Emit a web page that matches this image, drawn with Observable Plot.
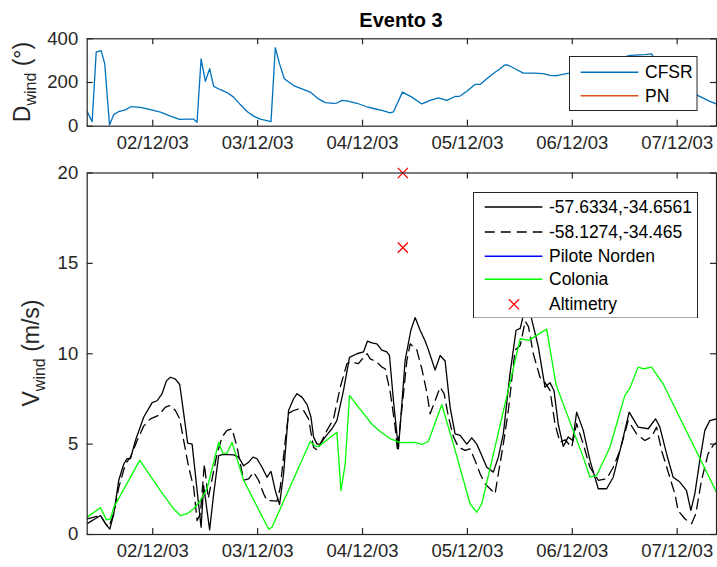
<!DOCTYPE html>
<html>
<head>
<meta charset="utf-8">
<script src="https://cdn.jsdelivr.net/npm/d3@7"></script>
<script src="https://cdn.jsdelivr.net/npm/@observablehq/plot@0.6"></script>
<style>
  body { margin: 0; background: #fff; }
  #fig { position: relative; width: 717px; height: 567px; overflow: hidden;
         font-family: "Liberation Sans", Arial, sans-serif; color: #262626; background: #fff; }
  .panel { position: absolute; left: 0; }
  .title { position: absolute; left: 401px; top: 20px; transform: translate(-50%, -50%);
           font-weight: bold; font-size: 20px; color: #000; white-space: nowrap; line-height: 1; }
  .ylab { position: absolute; transform: translate(-50%, -50%) rotate(-90deg);
          font-size: 23px; white-space: nowrap; line-height: 1; color: #262626; }
  .ylab .sub { font-size: 16px; position: relative; top: 6px; }
</style>
</head>
<body>
<div id="fig"></div>
<script>
// ---------------- data ----------------
const startTime = "2003-12-01T09:00:00Z";   // left edge of both panels
const endTime   = "2003-12-07T09:00:00Z";   // right edge of both panels
const xTickLabels = ["02/12/03", "03/12/03", "04/12/03", "05/12/03", "06/12/03", "07/12/03"];
const dirTicks = [0, 200, 400];
const speedTicks = [0, 5, 10, 15, 20];
const titleText = "Evento 3";

// CFSR wind direction (hours after start, degrees)
const dirHours = [0,1.14,2.06,3.2,4.02,5.1,6.08,7.22,8.75,10.06,12.18,14.47,16.75,19.04,21.17,22.86,24.37,25.14,26.06,27.04,28.02,28.94,30.47,32,33.51,35.04,36.57,38.08,39.61,42.06,43.04,44.02,45.1,47.22,49.14,51.04,52.94,54.47,56.37,57.14,58.29,59.43,61.71,64,65.51,67.43,69.33,70.08,72.14,74.29,76.57,78.47,80.37,82.29,84.18,85.33,86.86,88.75,89.9,91.43,93.33,94.47,95.61,96.37,97.9,99.79,102.08,104.37,105.9,107.43,110.24,113.9,117.33,120.76,124.19,127.61,129.14,129.52,132.2,135.6,139.79,142.47,144];
const dirValues = [67,21,339,346,285,6,53,67,75,90,86,76,64,46,31,32,32,18,308,205,263,182,167,154,133,99,67,46,32,21,359,285,217,186,171,156,125,108,104,106,118,116,105,89,81,72,61,66,156,133,102,118,130,118,136,138,160,191,191,217,247,263,281,279,263,243,243,241,233,231,243,262,285,305,324,328,331,319,270,200,140,114,102];
const pnDirValues = [];   // PN: legend entry only

// Wind speed at -57.6334,-34.6561 (solid black)
const s1Hours = [0,3.04,4.18,5.17,6.08,7.22,8.37,9.14,9.9,11.04,12.94,14.86,16,17.14,18.13,19.04,20.18,21.17,22.08,22.99,24,26.06,26.65,28.02,28.94,30.08,31.22,33.51,34.65,35.79,36.94,37.94,38.86,40,41.14,42.06,43.04,44.02,44.94,46.08,47.22,48,49.14,50.29,51.2,51.79,52.57,53.33,54.47,56,57.14,58.65,60.02,61.71,63.22,64.14,65.14,66.29,67.43,68.57,69.17,70.08,71.22,72.75,74.06,75.04,76.18,77.33,78.1,79.61,80.76,81.9,83.04,84.18,85.33,86.86,88,89.14,90.29,91.43,92.94,94.08,95.22,96.75,98.13,99.09,100.27,100.96,101.71,103.22,104.75,105.9,106.81,107.79,108.94,110.08,111.09,112,113.51,115.04,116.94,118.86,120.37,122.29,124.02,126.08,128.37,130.06,131.04,132.57,134.08,135.61,137.14,138.13,139.04,140.18,141.33,142.47,144];
const s1Values = [0.6,1.05,0.6,0.3,1.15,3.0,3.9,4.2,4.2,5.2,6.5,7.3,7.4,7.8,8.5,8.7,8.6,8.3,6.7,5.05,5.0,0.4,2.7,0.26,2.25,4.37,4.43,4.4,4.28,3.8,4.0,4.28,4.19,3.72,3.17,3.49,2.43,1.66,3.36,6.86,7.51,7.79,7.6,7.2,6.5,5.4,5.0,5.0,5.4,5.85,6.3,7.97,9.8,10.0,10.1,10.7,10.6,10.55,10.2,10.1,9.9,7.4,4.74,9.63,11.3,12.0,11.3,10.7,10.2,9.1,9.9,9.6,7.05,5.57,5.48,5.0,5.35,5.0,4.37,3.72,3.45,4.28,5.57,8.9,11.3,11.4,12.6,12.8,11.9,10.4,8.15,8.4,7.97,6.1,4.87,5.4,5.2,6.77,5.76,4.1,2.53,2.53,3.17,5.0,6.77,5.94,5.85,6.4,5.94,4.47,3.17,2.9,2.43,1.33,2.25,4.1,5.76,6.3,6.4];

// Wind speed at -58.1274,-34.465 (dashed black)
const s2Hours = [0,3.04,4.18,4.94,6.08,7.22,8.75,9.9,11.43,12.94,14.47,16.37,17.9,19.04,20.18,21.17,22.08,23.22,24.37,25.14,25.9,26.81,27.7,29.71,30.86,32,33.14,34.29,35.79,36.94,38.08,39.22,40.37,41.14,43.43,44.18,45.33,46.08,47.22,48.37,49.51,50.65,51.79,52.71,53.71,54.86,56.37,57.9,59.43,60.57,62.08,63.22,64.07,64.75,66.29,67.43,68.18,69.33,70.47,71,72.37,73.14,73.9,75.43,76.57,77.71,78.47,79.61,80.76,81.67,82.67,83.81,84.95,86.47,87.61,88.75,89.9,91.05,92.18,93.33,94.08,95.22,96.37,97.9,99.09,100.22,100.98,102.08,103.61,104.75,105.9,107.04,108.18,109.33,110.86,112,113.51,115.04,116.94,118.86,120.37,121.9,123.79,125.71,127.61,129.14,130.29,131.43,132.95,134.47,135.22,136.75,138.29,139.27,140.57,142.08,143.22,144];
const s2Values = [0.87,1.05,0.6,0.4,1.15,2.6,3.9,4.28,5.2,6.0,6.4,6.6,7.05,7.14,6.86,6.4,5.2,3.72,2.6,0.77,1.15,3.9,2.0,4.47,5.4,5.76,5.85,4.83,3.0,3.08,3.45,3.0,2.25,1.88,1.85,2.6,5.2,6.7,6.86,6.95,6.86,6.4,4.83,4.65,5.2,5.76,6.4,8.15,9.45,9.54,9.45,9.8,10.0,9.72,9.54,9.26,9.17,7.9,5.94,4.65,7.79,9.6,10.55,10.2,9.17,7.87,6.68,7.4,8.15,7.79,6.5,5.4,4.83,4.65,4.74,4.1,3.36,2.8,2.53,2.25,3.36,5.0,6.86,10.2,10.46,11.8,11.5,10.0,8.7,8.4,7.97,6.13,5.1,5.24,4.83,6.13,5.0,3.72,3.0,3.08,3.72,4.65,6.3,5.57,5.2,5.4,5.94,4.65,3.45,2.25,1.33,0.87,0.6,1.15,3.0,4.47,4.93,5.1];

// Colonia (green)
const coloniaHours = [0,3.04,4.41,5.33,6.08,12.02,16.75,19.79,21.33,22.86,24.37,25.9,27.43,30.08,31.09,32,33.14,35.79,41.51,42.29,51.04,52.18,52.94,57.14,58.06,59.04,60.02,61.71,63.22,65.14,67.04,69.33,71.61,75.04,76.57,78.08,81.14,83.79,87.61,89.14,90.29,99.09,100.98,105.14,107.27,110.36,113.51,115.04,116.57,119.61,123.04,124.18,126.08,127.38,129.14,131.79,144];
const coloniaValues = [0.96,1.48,0.81,0.87,1.5,4.1,2.43,1.42,1.05,1.15,1.42,1.88,2.53,5.1,4.47,4.5,5.1,3.0,0.3,0.4,5.15,4.89,4.87,5.66,2.43,3.9,7.7,7.15,6.7,6.1,5.7,5.3,5.08,5.1,4.98,5.16,7.18,5.0,1.7,1.23,1.7,10.83,10.74,11.36,8.3,6.3,4.28,3.17,3.26,4.83,7.7,8.1,9.26,9.17,9.26,8.34,2.34];

const piloteNordenValues = [];   // legend entry only

// Altimetry (red crosses)
const altHours = [72.23, 72.23];
const altValues = [20.0, 15.87];

const topLegendLabels = ["CFSR", "PN"];
const bottomLegendLabels = ["-57.6334,-34.6561", "-58.1274,-34.465", "Pilote Norden", "Colonia", "Altimetry"];

// ---------------- build ----------------
const t0 = Date.parse(startTime);
const toDate = h => new Date(t0 + h * 3600e3);
const zip = (hs, vs) => hs.slice(0, Math.min(hs.length, vs.length)).map((h, i) => ({date: toDate(h), value: vs[i]}));
const xDomain = [new Date(startTime), new Date(endTime)];
const parseTick = d3.utcParse("%d/%m/%y");
const fmt = d3.utcFormat("%d/%m/%y");
const dayTicks = xTickLabels.map(parseTick);

const dirData = zip(dirHours, dirValues);
const s1Data = zip(s1Hours, s1Values);
const s2Data = zip(s2Hours, s2Values);
const colData = zip(coloniaHours, coloniaValues);
const altData = zip(altHours, altValues);

const W = 717, ML = 86.7, MR = 1;
const TOP_H = 150, TOP_MT = 38.3, TOP_MB = 24.3;
const BOT_TOP = 150, BOT_H = 417, BOT_MT = 22.5, BOT_MB = 33;
const INK = "#262626", TL = 6, FW = 1.2;
const BLUE = "#0072BD", ORANGE = "#D95319", GREEN = "#00FF00", RED = "#FF0000", PNBLUE = "#0000FF";

const style = {fontFamily: "'Liberation Sans', Arial, sans-serif", fontSize: "18.5px", color: INK, background: "transparent", overflow: "visible"};

function boxMarks(yt, h, mt, mb, padX) {
  const ih = h - mt - mb, iw = W - ML - MR;
  return [
    Plot.tickX(dayTicks, {x: d => d, stroke: INK, strokeWidth: FW, insetTop: ih - TL}),
    Plot.tickX(dayTicks, {x: d => d, stroke: INK, strokeWidth: FW, insetBottom: ih - TL}),
    Plot.tickY(yt, {y: d => d, stroke: INK, strokeWidth: FW, insetRight: iw - TL}),
    Plot.tickY(yt, {y: d => d, stroke: INK, strokeWidth: FW, insetLeft: iw - TL}),
    Plot.frame({stroke: INK, strokeWidth: FW}),
    Plot.axisX(dayTicks, {tickSize: 0, tickPadding: padX, tickFormat: fmt, label: null}),
    Plot.axisY(yt, {tickSize: 0, tickPadding: 9, label: null})
  ];
}

const fig = document.getElementById("fig");

const topPlot = Plot.plot({
  width: W, height: TOP_H, marginTop: TOP_MT, marginBottom: TOP_MB, marginLeft: ML, marginRight: MR,
  x: {type: "utc", domain: xDomain},
  y: {domain: [0, 400]},
  style,
  marks: [
    Plot.line(dirData, {x: "date", y: "value", stroke: BLUE, strokeWidth: 1.3, clip: true}),
    ...boxMarks(dirTicks, TOP_H, TOP_MT, TOP_MB, 10)
  ]
});
const topDiv = document.createElement("div");
topDiv.className = "panel"; topDiv.style.top = "0px";
topDiv.appendChild(topPlot);
fig.appendChild(topDiv);

const botPlot = Plot.plot({
  width: W, height: BOT_H, marginTop: BOT_MT, marginBottom: BOT_MB, marginLeft: ML, marginRight: MR,
  x: {type: "utc", domain: xDomain},
  y: {domain: [0, 20]},
  style,
  marks: [
    Plot.line(s1Data, {x: "date", y: "value", stroke: "#000", strokeWidth: 1.3, clip: true}),
    Plot.line(s2Data, {x: "date", y: "value", stroke: "#000", strokeWidth: 1.3, strokeDasharray: "10,6", clip: true}),
    Plot.line(colData, {x: "date", y: "value", stroke: GREEN, strokeWidth: 1.3, clip: true}),
    Plot.dot(altData, {x: "date", y: "value", symbol: "times", r: 4.7, stroke: RED, strokeWidth: 1.3}),
    ...boxMarks(speedTicks, BOT_H, BOT_MT, BOT_MB, 9)
  ]
});
const botDiv = document.createElement("div");
botDiv.className = "panel"; botDiv.style.top = BOT_TOP + "px";
botDiv.appendChild(botPlot);
fig.appendChild(botDiv);

// title and axis labels
const title = document.createElement("div");
title.className = "title"; title.textContent = titleText;
fig.appendChild(title);

function ylab(html, cx, cy) {
  const d = document.createElement("div");
  d.className = "ylab"; d.innerHTML = html;
  d.style.left = cx + "px"; d.style.top = cy + "px";
  fig.appendChild(d);
}
ylab('D<span class="sub">wind</span> (°)', 22, 82);
ylab('V<span class="sub">wind</span> (m/s)', 30.5, 353);

// legends
function legend(left, top, w, h, rows) {
  const svg = d3.select(fig).append("svg")
    .style("position", "absolute").style("left", left + "px").style("top", top + "px")
    .attr("width", w).attr("height", h);
  svg.append("rect").attr("x", 0.5).attr("y", 0.5).attr("width", w - 1).attr("height", h - 1)
    .attr("fill", "white").attr("stroke", INK).attr("stroke-width", 1);
  rows.forEach(r => {
    if (r.marker) {
      svg.append("path").attr("d", d3.symbol(d3.symbolTimes, 70)())
        .attr("transform", `translate(41,${r.y})`).attr("fill", "none")
        .attr("stroke", r.color).attr("stroke-width", 1.3);
    } else {
      svg.append("line").attr("x1", 11.7).attr("x2", 69.4).attr("y1", r.y).attr("y2", r.y)
        .attr("stroke", r.color).attr("stroke-width", 1.5)
        .attr("stroke-dasharray", r.dash || null);
    }
    svg.append("text").attr("x", 76).attr("y", r.y).attr("dy", "0.35em")
      .attr("font-family", "'Liberation Sans', Arial, sans-serif").attr("font-size", 17.5)
      .attr("fill", "#000").text(r.label);
  });
}
legend(569, 56, 128.5, 55, [
  {label: topLegendLabels[0], color: BLUE, y: 16.3},
  {label: topLegendLabels[1], color: ORANGE, y: 39.7}
]);
legend(473.3, 191.7, 225, 126.6, [
  {label: bottomLegendLabels[0], color: "#000", y: 15},
  {label: bottomLegendLabels[1], color: "#000", y: 40, dash: "10,6"},
  {label: bottomLegendLabels[2], color: PNBLUE, y: 64.3},
  {label: bottomLegendLabels[3], color: GREEN, y: 87.3},
  {label: bottomLegendLabels[4], color: RED, y: 112.3, marker: true}
]);
</script>
</body>
</html>
